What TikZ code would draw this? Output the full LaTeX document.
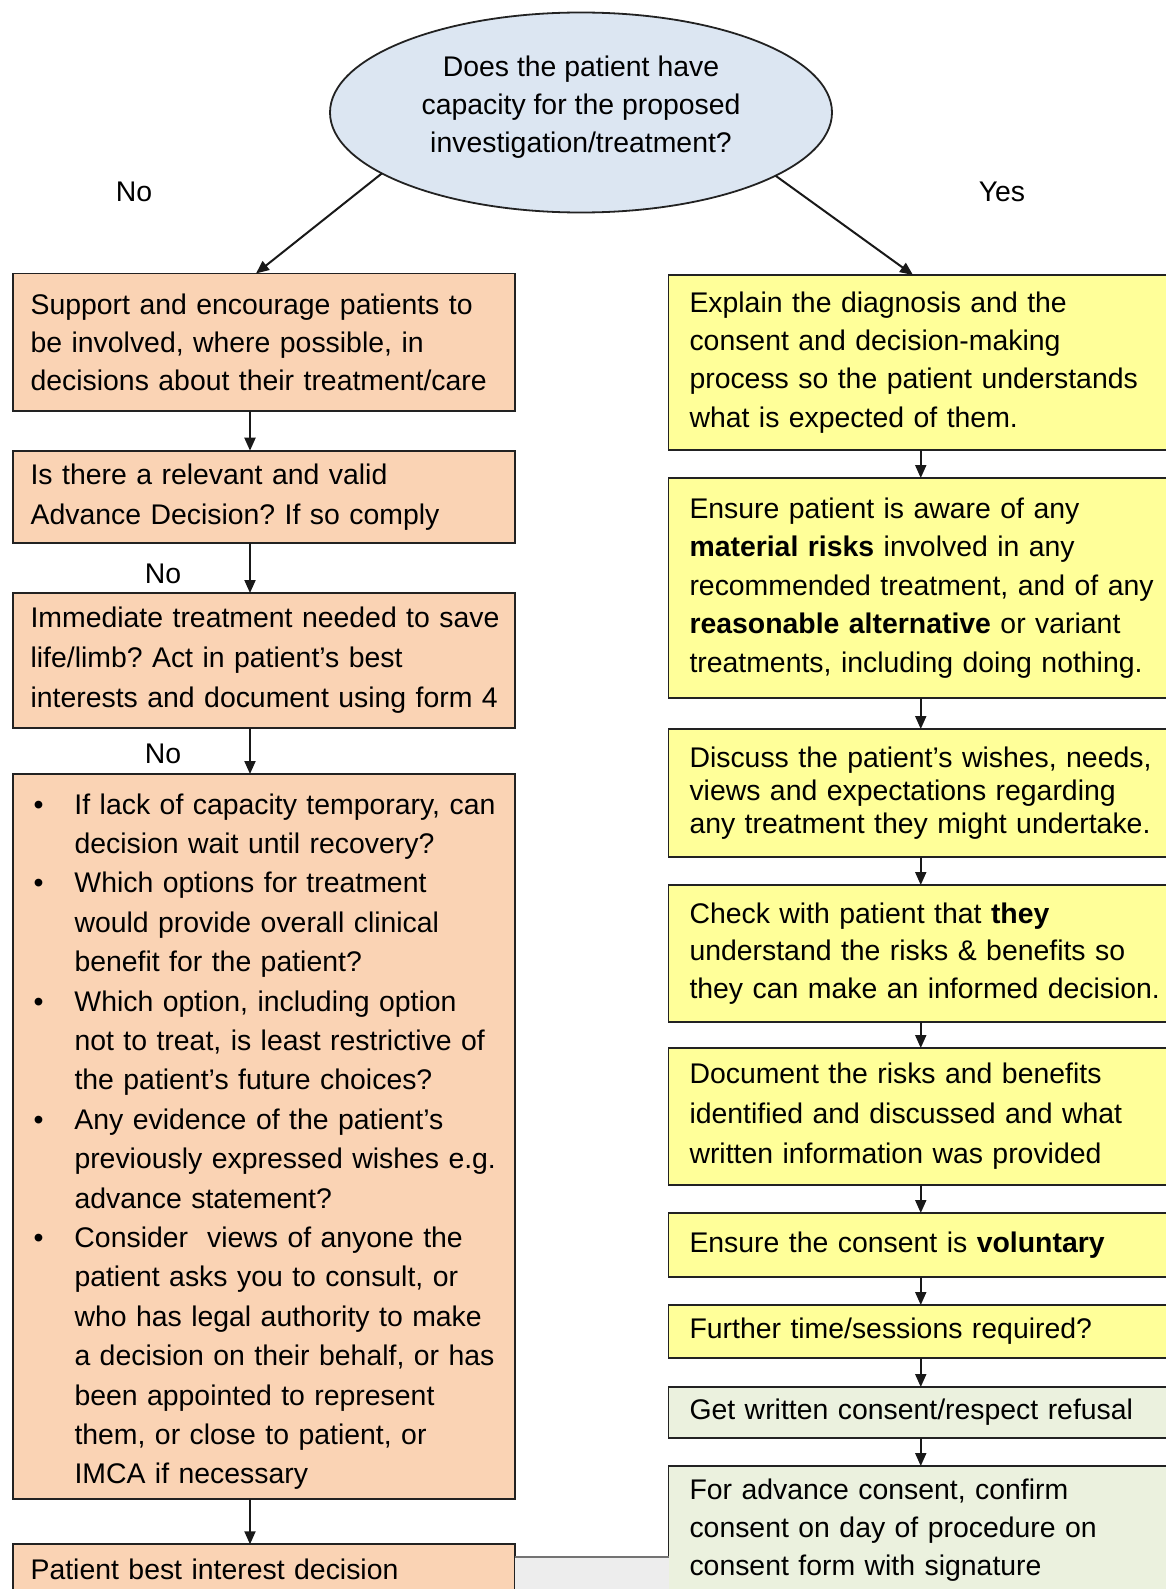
\documentclass[tikz,border=0pt]{standalone}
\usepackage{fontspec}
\setmainfont{Liberation Sans}
\usetikzlibrary{arrows.meta,shapes.geometric}
\frenchspacing
\definecolor{peach}{HTML}{FAD3B4}
\definecolor{lyellow}{HTML}{FFFF99}
\definecolor{lgreen}{HTML}{EBF1DE}
\definecolor{lblue}{HTML}{DCE6F2}
\definecolor{edge}{HTML}{222222}
\newcommand\Ln[1]{\mbox{#1}}
\newcommand\bul[1]{\mbox{\makebox[41pt][l]{\textbullet}#1}}
\newcommand\ind[1]{\mbox{\hspace*{41pt}#1}}
\newcommand\fsz[1]{\fontsize{28.4}{#1}\selectfont}
\tikzset{
  box/.style={draw=edge, line width=1.9pt, rectangle, anchor=north west, align=left,
              inner ysep=0pt, outer sep=0pt},
  lbox/.style={box, fill=peach, inner xsep=18pt, text width=466.4pt},
  rbox/.style={box, fill=lyellow, inner xsep=21pt, text width=462.5pt},
  gbox/.style={rbox, fill=lgreen},
  arr/.style={-{Triangle[length=13pt,width=11pt]}, line width=2pt, draw=black!90},
  lab/.style={font=\fsz{38}, anchor=base, inner sep=0pt}
}
\begin{document}
\begin{tikzpicture}[x=1pt,y=-1pt]
\useasboundingbox (0,0) rectangle (1166,1589);
\clip (0,0) rectangle (1166,1589);
\fill[white] (0,0) rectangle (1166,1589);

% helper coordinates
\coordinate (ax) at (250,0);
\coordinate (la) at (256,0);
\coordinate (ra) at (913,0);
\coordinate (gl) at (0,1557);

% question ellipse
\node[ellipse, draw=edge, line width=1.8pt, fill=lblue, minimum width=502pt,
      minimum height=200pt, inner sep=0pt, outer sep=0pt] (Q) at (581,112.5) {};
\node[align=center, font=\fsz{38}, inner sep=0pt] (Qt) at (581,107)
  {Does the patient have\\capacity for the proposed\\investigation/treatment?};

\node[lab] (no0) at (134,202) {No};
\node[lab] (yes0) at (1002,202) {Yes};

% left column
\node[lbox, font=\fsz{38}, minimum height=137.5pt] (L1) at (12.6,273.5)
  {\Ln{Support and encourage patients to}\\\Ln{be involved, where possible, in}\\\Ln{decisions about their treatment/care}};
\node[lbox, font=\fsz{40}, minimum height=92pt] (L2) at (12.6,450.7)
  {\Ln{Is there a relevant and valid}\\\Ln{Advance Decision? If so comply}};
\node[lbox, font=\fsz{40}, minimum height=135pt] (L3) at (12.6,593)
  {\Ln{Immediate treatment needed to save}\\\Ln{life/limb? Act in patient’s best}\\\Ln{interests and document using form 4}};
\node[box, fill=peach, inner xsep=20.9pt, text width=460.6pt, font=\fsz{39.4},
      minimum height=725pt] (L4) at (12.6,774)
  {\rule{0pt}{31pt}\bul{If lack of capacity temporary, can}\\
   \ind{decision wait until recovery?}\\
   \bul{Which options for treatment}\\
   \ind{would provide overall clinical}\\
   \ind{benefit for the patient?}\\
   \bul{Which option, including option}\\
   \ind{not to treat, is least restrictive of}\\
   \ind{the patient’s future choices?}\\
   \bul{Any evidence of the patient’s}\\
   \ind{previously expressed wishes e.g.}\\
   \ind{advance statement?}\\
   \bul{Consider\ \ views of anyone the}\\
   \ind{patient asks you to consult, or}\\
   \ind{who has legal authority to make}\\
   \ind{a decision on their behalf, or has}\\
   \ind{been appointed to represent}\\
   \ind{them, or close to patient, or}\\
   \ind{IMCA if necessary}};
\node[lbox, font=\fsz{38}, minimum height=50pt] (L5) at (12.6,1544.3)
  {\Ln{Patient best interest decision}};

\node[lab] (no1) at (163,583) {No};
\node[lab] (no2) at (163,763) {No};

% right column
\node[rbox, font=\fsz{38.3}, minimum height=175pt] (R1) at (668.5,275)
  {\Ln{Explain the diagnosis and the}\\\Ln{consent and decision-making}\\\Ln{process so the patient understands}\\\Ln{what is expected of them.}};
\node[rbox, font=\fsz{38.5}, minimum height=220pt] (R2) at (668.5,478)
  {\Ln{Ensure patient is aware of any}\\\Ln{\textbf{material risks} involved in any}\\\Ln{recommended treatment, and of any}\\\Ln{\textbf{reasonable alternative} or variant}\\\Ln{treatments, including doing nothing.}};
\node[rbox, font=\fsz{33}, minimum height=128pt] (R3) at (668.5,729)
  {\Ln{Discuss the patient’s wishes, needs,}\\\Ln{views and expectations regarding}\\\Ln{any treatment they might undertake.}};
\node[rbox, font=\fsz{37.5}, minimum height=137pt] (R4) at (668.5,885)
  {\Ln{Check with patient that \textbf{they}}\\\Ln{understand the risks \& benefits so}\\\Ln{they can make an informed decision.}};
\node[rbox, font=\fsz{40}, minimum height=137pt] (R5) at (668.5,1048)
  {\Ln{Document the risks and benefits}\\\Ln{identified and discussed and what}\\\Ln{written information was provided}};
\node[rbox, font=\fsz{38}, minimum height=64pt] (R6) at (668.5,1213)
  {\Ln{Ensure the consent is \textbf{voluntary}}};
\node[rbox, font=\fsz{38}, minimum height=53pt] (R7) at (668.5,1305)
  {\Ln{Further time/sessions required?}};
\node[gbox, font=\fsz{38}, minimum height=51pt] (R8) at (668.5,1387)
  {\Ln{Get written consent/respect refusal}};
\node[gbox, font=\fsz{38}, minimum height=128pt] (R9) at (668.5,1466)
  {\Ln{For advance consent, confirm}\\\Ln{consent on day of procedure on}\\\Ln{consent form with signature}};

% bottom strip between the last boxes
\fill[black!7] (L5.east |- gl) rectangle (R9.west |- 0,1589);
\draw[black!55, line width=1.2pt] (L5.east |- gl) -- (R9.west |- gl);

% connectors
\draw[arr] (Q.197) -- (L1.north -| la);
\draw[arr] (Q.342) -- (R1.north -| ra);
\draw[arr] (L1.south -| ax) -- (L2.north -| ax);
\draw[arr] (L2.south -| ax) -- (L3.north -| ax);
\draw[arr] (L3.south -| ax) -- (L4.north -| ax);
\draw[arr] (L4.south -| ax) -- (L5.north -| ax);
\draw[arr] (R1.south) -- (R2.north);
\draw[arr] (R2.south) -- (R3.north);
\draw[arr] (R3.south) -- (R4.north);
\draw[arr] (R4.south) -- (R5.north);
\draw[arr] (R5.south) -- (R6.north);
\draw[arr] (R6.south) -- (R7.north);
\draw[arr] (R7.south) -- (R8.north);
\draw[arr] (R8.south) -- (R9.north);
\end{tikzpicture}
\end{document}
